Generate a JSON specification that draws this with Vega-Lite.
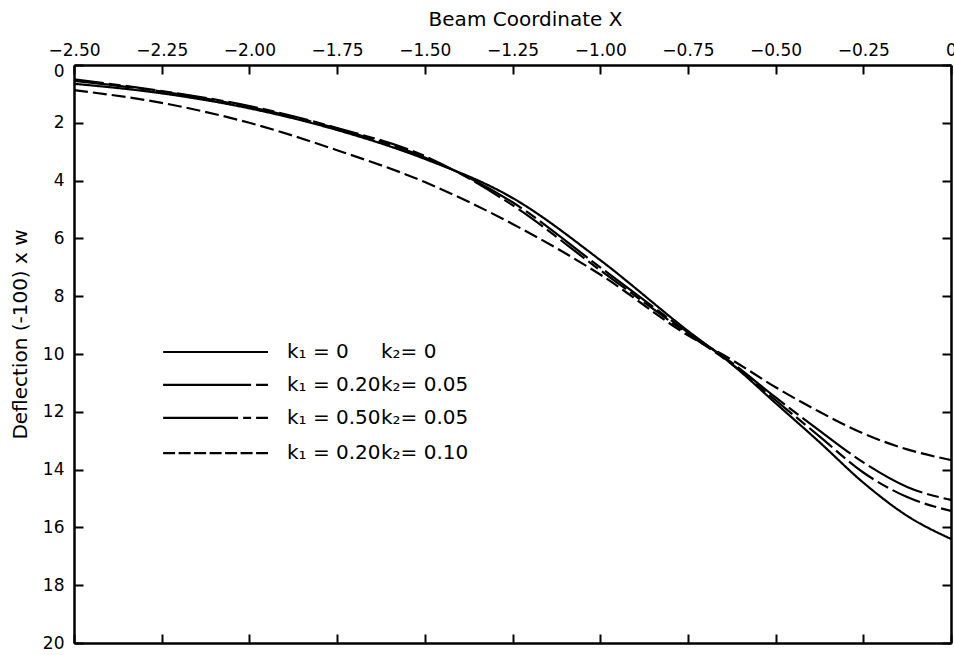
{
  "$schema": "https://vega.github.io/schema/vega-lite/v6.json",
  "width": 877,
  "height": 578,
  "autosize": "none",
  "padding": {"left": 74, "top": 65, "right": 3, "bottom": 12},
  "background": "white",
  "config": {
    "view": {"stroke": null},
    "font": "DejaVu Sans",
    "axis": {
      "domainColor": "black",
      "domainWidth": 2.5,
      "tickColor": "black",
      "tickWidth": 2,
      "tickSize": -9,
      "grid": false,
      "labelColor": "black",
      "labelFont": "DejaVu Sans",
      "labelFontSize": 17,
      "labelFlush": false,
      "labelOverlap": false,
      "titleColor": "black",
      "titleFont": "DejaVu Sans",
      "titleFontWeight": "normal"
    }
  },
  "datasets": {
    "curves": [
      {"series": "A", "x": -2.5, "y": 0.65}, {"series": "A", "x": -2.25, "y": 0.98}, {"series": "A", "x": -2.0, "y": 1.5}, {"series": "A", "x": -1.75, "y": 2.25}, {"series": "A", "x": -1.5, "y": 3.25}, {"series": "A", "x": -1.25, "y": 4.6}, {"series": "A", "x": -1.0, "y": 6.75}, {"series": "A", "x": -0.75, "y": 9.2}, {"series": "A", "x": -0.625, "y": 10.35}, {"series": "A", "x": -0.5, "y": 11.7}, {"series": "A", "x": -0.375, "y": 13.05}, {"series": "A", "x": -0.25, "y": 14.45}, {"series": "A", "x": -0.125, "y": 15.6}, {"series": "A", "x": 0, "y": 16.4},
      {"series": "B", "x": -2.5, "y": 0.55}, {"series": "B", "x": -2.25, "y": 0.92}, {"series": "B", "x": -2.0, "y": 1.45}, {"series": "B", "x": -1.75, "y": 2.2}, {"series": "B", "x": -1.5, "y": 3.2}, {"series": "B", "x": -1.25, "y": 4.75}, {"series": "B", "x": -1.0, "y": 7.0}, {"series": "B", "x": -0.75, "y": 9.25}, {"series": "B", "x": -0.625, "y": 10.3}, {"series": "B", "x": -0.5, "y": 11.5}, {"series": "B", "x": -0.375, "y": 12.65}, {"series": "B", "x": -0.25, "y": 13.75}, {"series": "B", "x": -0.125, "y": 14.6}, {"series": "B", "x": 0, "y": 15.05},
      {"series": "C", "x": -2.5, "y": 0.5}, {"series": "C", "x": -2.25, "y": 0.9}, {"series": "C", "x": -2.0, "y": 1.42}, {"series": "C", "x": -1.75, "y": 2.18}, {"series": "C", "x": -1.5, "y": 3.15}, {"series": "C", "x": -1.25, "y": 4.85}, {"series": "C", "x": -1.0, "y": 7.1}, {"series": "C", "x": -0.75, "y": 9.3}, {"series": "C", "x": -0.625, "y": 10.35}, {"series": "C", "x": -0.5, "y": 11.6}, {"series": "C", "x": -0.375, "y": 12.85}, {"series": "C", "x": -0.25, "y": 14.1}, {"series": "C", "x": -0.125, "y": 14.95}, {"series": "C", "x": 0, "y": 15.43},
      {"series": "D", "x": -2.5, "y": 0.87}, {"series": "D", "x": -2.25, "y": 1.31}, {"series": "D", "x": -2.0, "y": 2.0}, {"series": "D", "x": -1.75, "y": 2.95}, {"series": "D", "x": -1.5, "y": 4.05}, {"series": "D", "x": -1.25, "y": 5.5}, {"series": "D", "x": -1.0, "y": 7.25}, {"series": "D", "x": -0.75, "y": 9.35}, {"series": "D", "x": -0.625, "y": 10.2}, {"series": "D", "x": -0.5, "y": 11.15}, {"series": "D", "x": -0.375, "y": 12.0}, {"series": "D", "x": -0.25, "y": 12.75}, {"series": "D", "x": -0.125, "y": 13.3}, {"series": "D", "x": 0, "y": 13.67}
    ],
    "legend": [
      {"series": "A", "x1": -2.246, "x2": -1.947, "tx1": -1.893, "tx2": -1.625, "y": 9.93, "k1": "k₁ = 0", "k2": "k₂= 0"},
      {"series": "B", "x1": -2.246, "x2": -1.947, "tx1": -1.893, "tx2": -1.625, "y": 11.07, "k1": "k₁ = 0.20", "k2": "k₂= 0.05"},
      {"series": "C", "x1": -2.246, "x2": -1.947, "tx1": -1.893, "tx2": -1.625, "y": 12.21, "k1": "k₁ = 0.50", "k2": "k₂= 0.05"},
      {"series": "D", "x1": -2.246, "x2": -1.947, "tx1": -1.893, "tx2": -1.625, "y": 13.43, "k1": "k₁ = 0.20", "k2": "k₂= 0.10"}
    ]
  },
  "layer": [
    {
      "data": {"name": "curves"},
      "mark": {"type": "line", "interpolate": "monotone", "color": "black", "strokeWidth": 2.2},
      "encoding": {
        "x": {
          "field": "x", "type": "quantitative",
          "scale": {"domain": [-2.5, 0], "nice": false, "zero": false},
          "axis": {
            "orient": "top",
            "values": [-2.5, -2.25, -2.0, -1.75, -1.5, -1.25, -1.0, -0.75, -0.5, -0.25, 0],
            "labelExpr": "datum.value == 0 ? '0' : replace(format(datum.value, '.2f'), '-', '−')",
            "labelPadding": 15,
            "title": "Beam Coordinate  X",
            "titleFontSize": 20,
            "titlePadding": 12,
            "titleX": 451
          }
        },
        "y": {
          "field": "y", "type": "quantitative",
          "scale": {"domain": [0, 20], "reverse": true, "nice": false, "zero": false},
          "axis": {
            "orient": "left",
            "values": [0, 2, 4, 6, 8, 10, 12, 14, 16, 18, 20],
            "labelPadding": 19,
            "labelOffset": {"condition": {"test": "datum.value == 0", "value": 6}, "value": 0},
            "title": "Deflection (-100) x w",
            "titleFontSize": 20,
            "titleX": -44,
            "titleY": 269
          }
        },
        "strokeDash": {
          "field": "series", "type": "nominal",
          "scale": {"domain": ["A", "B", "C", "D"], "range": [[1, 0], [60, 5, 12, 5], [30, 5, 12, 5], [14, 5]]},
          "legend": null
        }
      }
    },
    {
      "data": {"name": "legend"},
      "mark": {"type": "rule", "color": "black", "strokeWidth": 2.2},
      "encoding": {
        "x": {
          "field": "x1", "type": "quantitative",
          "scale": {"domain": [-2.5, 0], "nice": false, "zero": false},
          "axis": {
            "orient": "bottom",
            "values": [-2.5, -2.25, -2.0, -1.75, -1.5, -1.25, -1.0, -0.75, -0.5, -0.25, 0],
            "labels": false,
            "title": null
          }
        },
        "x2": {"field": "x2"},
        "y": {
          "field": "y", "type": "quantitative",
          "scale": {"domain": [0, 20], "reverse": true, "nice": false, "zero": false},
          "axis": {
            "orient": "right",
            "values": [0, 2, 4, 6, 8, 10, 12, 14, 16, 18, 20],
            "labels": false,
            "title": null
          }
        },
        "strokeDash": {
          "field": "series", "type": "nominal",
          "scale": {"domain": ["A", "B", "C", "D"], "range": [[1, 0], [88, 5, 12, 200], [75, 5, 8, 5, 12, 200], [12, 3.5]]},
          "legend": null
        }
      }
    },
    {
      "data": {"name": "legend"},
      "mark": {"type": "text", "align": "left", "baseline": "middle", "fontSize": 20, "color": "black", "font": "DejaVu Sans"},
      "encoding": {
        "x": {"field": "tx1", "type": "quantitative", "axis": null},
        "y": {"field": "y", "type": "quantitative", "axis": null},
        "text": {"field": "k1"}
      }
    },
    {
      "data": {"name": "legend"},
      "mark": {"type": "text", "align": "left", "baseline": "middle", "fontSize": 20, "color": "black", "font": "DejaVu Sans"},
      "encoding": {
        "x": {"field": "tx2", "type": "quantitative", "axis": null},
        "y": {"field": "y", "type": "quantitative", "axis": null},
        "text": {"field": "k2"}
      }
    }
  ],
  "resolve": {
    "scale": {"strokeDash": "independent"},
    "axis": {"x": "independent", "y": "independent"}
  }
}
